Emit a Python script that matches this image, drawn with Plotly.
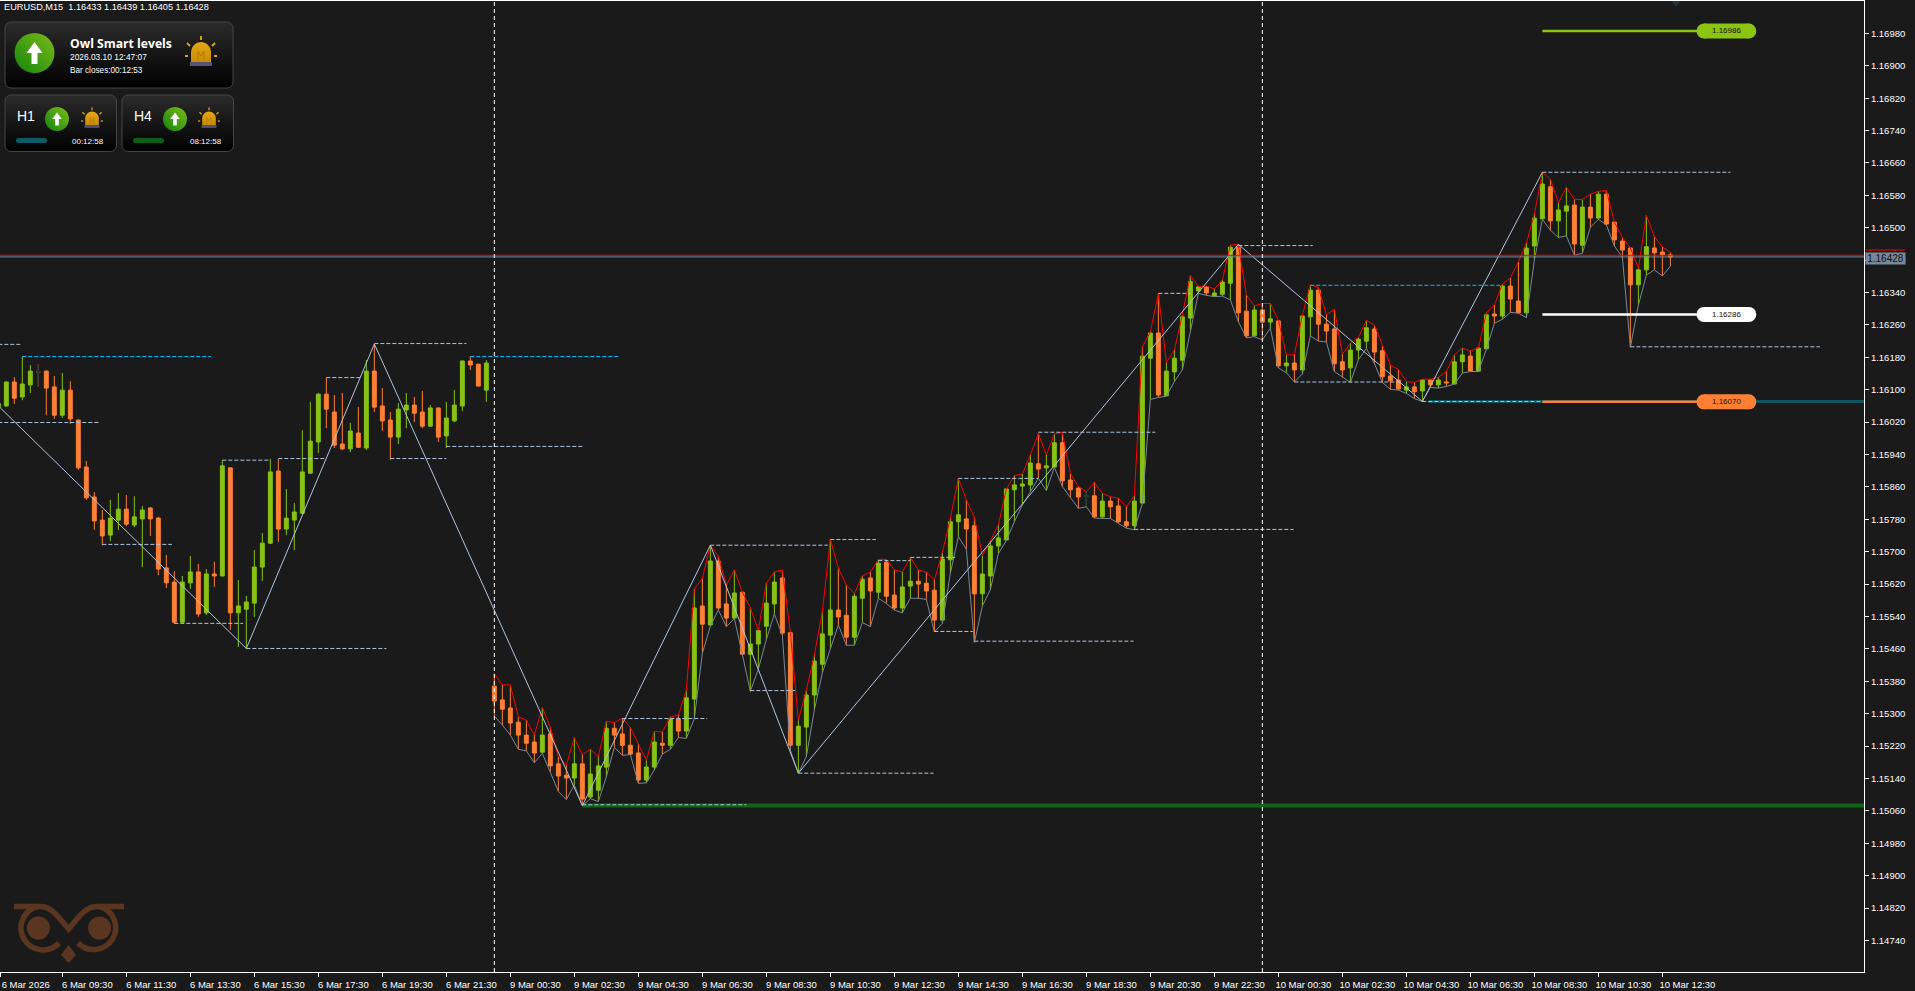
import base64
import plotly.graph_objects as go

# ---------- price data (points, 1e-5) ; bar index -1..208 ----------
opens = [116056,116060,116119,116082,116112,116144,116146,116107,116037,116099,116025,
115909,115835,115778,115741,115778,115805,115766,115781,115808,115783,
115660,115625,115526,115623,115650,115549,115645,115640,115907,115549,
115558,115573,115662,115721,115899,115756,115778,115795,115894,115971,
116089,116045,115966,115954,115993,115956,116146,116060,116025,115983,
116050,116062,116045,116010,116055,115986,116023,116060,116171,116163,116099,
115368,115334,115314,115279,115247,115230,115205,115250,115176,115148,
115141,115176,115094,115111,115168,115264,115250,115222,115203,115136,
115168,115227,115222,115287,115257,115336,115566,115519,115677,115571,
115536,115600,115447,115472,115516,115571,115635,115500,115222,115267,
115346,115422,115494,115556,115543,115489,115585,115635,115600,115674,
115593,115561,115615,115627,115622,115605,115531,115680,115774,115781,
115764,115596,115640,115714,115729,115853,115862,115865,115917,115907,
115909,115969,115877,115857,115837,115838,115786,115825,115813,115774,
115764,115820,116178,116240,116085,116144,116173,116277,116344,116354,
116331,116336,116363,116452,116294,116233,116297,116267,116270,116159,
116166,116149,116280,116346,116262,116250,116169,116154,116198,116220,
116250,116196,116134,116124,116099,116107,116097,116124,116112,116119,
116114,116169,116183,116146,116201,116287,116282,116356,116319,116290,
116455,116522,116601,116517,116541,116556,116457,116551,116524,116583,
116514,116467,116450,116359,116396,116450,116440,116433]

highs = [116068,116121,116131,116182,116161,116163,116147,116134,116141,116121,116027,
115924,115847,115803,115828,115845,115840,115837,115813,115810,115786,
115692,115652,115640,115689,115670,115657,115675,115926,115908,115630,
115591,115704,115746,115929,115929,115855,115820,116000,116070,116092,
116130,116087,116092,116018,116057,116173,116213,116104,116045,116067,
116092,116082,116097,116062,116056,116070,116099,116172,116183,116164,116173,
115399,115371,115371,115292,115284,115247,115315,115266,115194,115173,
115241,115198,115212,115194,115281,115278,115289,115266,115225,115185,
115256,115255,115292,115296,115358,115608,115634,115716,115689,115618,
115655,115600,115561,115506,115622,115650,115655,115501,115284,115358,
115445,115552,115731,115659,115618,115597,115640,115650,115681,115681,
115655,115650,115686,115655,115650,115630,115698,115783,115881,115828,
115785,115690,115727,115766,115855,115888,115892,115939,115992,115939,
115991,115995,115894,115861,115848,115871,115844,115836,115832,115811,
115838,116206,116243,116338,116167,116198,116285,116382,116355,116356,
116349,116371,116457,116459,116334,116307,116313,116313,116272,116186,
116186,116285,116359,116353,116285,116299,116188,116215,116229,116271,
116260,116208,116161,116150,116120,116118,116126,116126,116131,116145,
116186,116203,116196,116203,116290,116309,116361,116376,116416,116462,
116534,116637,116620,116562,116600,116570,116570,116583,116590,116592,
116514,116476,116450,116400,116531,116478,116453,116439]

lows = [116050,116058,116065,116074,116092,116107,116037,116028,116030,116015,115902,
115828,115754,115716,115726,115754,115763,115761,115662,115739,115642,
115610,115522,115525,115608,115539,115544,115613,115639,115507,115465,
115461,115539,115628,115719,115724,115741,115704,115793,115892,115944,
116005,115956,115951,115946,115956,115951,116045,115998,115927,115966,
116005,116020,116005,116009,115971,115956,116020,116047,116149,116108,116070,
115294,115272,115247,115212,115208,115179,115202,115157,115108,115088,
115124,115073,115090,115083,115144,115217,115197,115199,115128,115129,
115161,115200,115212,115241,115239,115288,115449,115516,115556,115515,
115535,115446,115355,115410,115483,115546,115494,115210,115153,115194,
115309,115401,115461,115519,115469,115469,115525,115515,115585,115572,
115556,115549,115585,115585,115582,115502,115523,115647,115737,115706,
115476,115566,115606,115695,115728,115774,115815,115848,115881,115851,
115908,115861,115834,115807,115811,115783,115782,115782,115770,115758,
115754,115819,116076,116081,116084,116120,116149,116248,116338,116333,
116330,116331,116322,116268,116228,116231,116223,116252,116154,116142,
116119,116139,116233,116220,116218,116145,116131,116118,116174,116202,
116165,116118,116101,116099,116091,116078,116071,116106,116104,116108,
116114,116141,116145,116145,116200,116264,116274,116291,116289,116278,
116420,116521,116494,116476,116480,116432,116437,116501,116521,116507,
116455,116427,116205,116309,116383,116396,116381,116405]

closes = [116066,116119,116079,116114,116146,116144,116104,116037,116099,116028,115907,
115833,115776,115739,115783,115805,115768,115786,115803,115781,115657,
115623,115526,115625,115650,115546,115645,115640,115912,115549,115566,
115576,115662,115721,115897,115756,115783,115798,115897,115973,116089,
116052,115963,115954,115998,115958,116146,116057,116023,115983,116052,
116062,116042,116010,116055,115983,116030,116062,116171,116161,116109,116166,
115331,115311,115277,115247,115227,115203,115247,115171,115146,115141,
115176,115089,115151,115171,115264,115247,115222,115200,115136,115168,
115230,115222,115287,115257,115339,115561,115521,115677,115561,115536,
115598,115447,115472,115505,115573,115625,115499,115222,115269,115346,
115430,115497,115556,115539,115489,115590,115632,115603,115672,115590,
115561,115613,115627,115620,115603,115531,115682,115774,115791,115756,
115596,115645,115714,115734,115855,115865,115867,115919,115904,115912,
115969,115875,115853,115835,115837,115786,115825,115811,115774,115764,
115825,116183,116240,116087,116146,116178,116280,116367,116354,116339,
116339,116366,116452,116290,116233,116297,116267,116275,116159,116166,
116149,116282,116346,116262,116245,116164,116149,116198,116225,116253,
116193,116132,116122,116102,116107,116095,116124,116112,116124,116117,
116169,116186,116146,116203,116285,116282,116356,116324,116290,116450,
116524,116608,116517,116544,116554,116460,116551,116524,116583,116509,
116470,116445,116359,116396,116453,116438,116433,116428]

first_bar = -1
bars = list(range(first_bar, first_bar + len(opens)))
dojis = [4, 135]                 # the two dark crosses
dark_open = [116144, 115838]
dark_high = [116163, 115848]
dark_low = [116107, 115811]
dark_close = [116144, 115836]
channel_start = 61               # envelope only exists from 9 Mar 00:00

# zigzag
zz_bars = [-0.79, 30, 46, 72, 88, 99, 154, 177, 192]
zz_price = [116056, 115461, 116213, 115073, 115716, 115153, 116459, 116071, 116637]

# dashed swing levels: start bar, end bar, price
lvl_start = [-1, -1, 12, 21, 30, 27, 34, 40, 46, 48, 55, 72, 77, 88, 103, 93, 99, 109, 113, 116, 121, 119, 129, 141, 144, 161, 154, 192, 203, 177]
lvl_end = [2, 11.7, 20.7, 29.6, 47.5, 33, 39.8, 44.4, 57.5, 55, 72, 92.5, 87.6, 102.7, 108.7, 98.6, 115.9, 113, 118.6, 120.8, 140.9, 129, 143.6, 160.9, 148, 174.5, 163.3, 215.5, 226.7, 192]
lvl_price = [116212, 116019, 115718, 115523, 115461, 115926, 115930, 116130, 116214, 115930, 115960, 115075, 115288, 115716, 115730, 115357, 115153, 115678, 115686, 115503, 115479, 115881, 115995, 115755, 116338, 116119, 116456, 116637, 116206, 116071]
cyan_start = [2, 58, 163]
cyan_end = [25.6, 76.7, 186.7]
cyan_price = [116182, 116182, 116358]

# horizontal smart levels
green_zone = 115073
teal_zone = 116071
target_hi = 116986
target_mid = 116286
target_lo = 116070
target_labels = ["1.16986", "1.16286", "1.16070"]
target_colors = ["#8cc412", "#ffffff", "#ff8033"]
bid = 116428
ask = 116432

ytick_start, ytick_stop, ytick_step = 114660, 117060, 80
x_ticks = [-0.7] + list(range(7, 215, 8))
x_labels = ["6 Mar 2026"] + ["6 Mar %02d:30" % h for h in range(9, 23, 2)] \
    + ["9 Mar %02d:30" % h for h in range(0, 24, 2)] \
    + ["10 Mar %02d:30" % h for h in range(0, 14, 2)]

# ---------- geometry ----------
W, H = 1915, 991
ML, MR, MT, MB = 0, 51, 1, 19
PW, PH = W - ML - MR, H - MT - MB
BG = "#1a1a1a"
GREEN, ORANGE = "#88c214", "#ff8033"
STEEL = "#b0c4de"
SLATE = "#778899"


def pr(v):
    return v / 1e5


def px(x):
    return x / PW


def py(y):
    return 1 - (y - MT) / PH


fig = go.Figure()


def seg(starts, ends, prices):
    xs, ys = [], []
    for a, b, c in zip(starts, ends, prices):
        xs += [a, b, None]
        ys += [pr(c), pr(c), None]
    return xs, ys


def line(x, y, color, width, dash=None):
    fig.add_trace(go.Scatter(x=x, y=y, mode="lines", hoverinfo="skip",
                             line=dict(color=color, width=width, dash=dash)))


right_edge = 232.2
line([72, right_edge], [pr(green_zone)] * 2, "#0f6415", 4)
line([177.75, right_edge], [pr(teal_zone)] * 2, "#0e5560", 3)

fig.add_trace(go.Candlestick(
    x=bars, open=[pr(v) for v in opens], high=[pr(v) for v in highs],
    low=[pr(v) for v in lows], close=[pr(v) for v in closes],
    whiskerwidth=0, hoverinfo="skip",
    increasing=dict(line=dict(color=GREEN, width=1), fillcolor=GREEN),
    decreasing=dict(line=dict(color=ORANGE, width=1), fillcolor=ORANGE)))
fig.add_trace(go.Candlestick(
    x=dojis, open=[pr(v) for v in dark_open], high=[pr(v) for v in dark_high],
    low=[pr(v) for v in dark_low], close=[pr(v) for v in dark_close],
    whiskerwidth=0, hoverinfo="skip",
    increasing=dict(line=dict(color="#24303a", width=1), fillcolor="#24303a"),
    decreasing=dict(line=dict(color="#24303a", width=1), fillcolor="#24303a")))

k = channel_start - first_bar
line(bars[k:], [pr(v) for v in highs[k:]], "#ff0000", 1)
line(bars[k:], [pr(v) for v in lows[k:]], SLATE, 1)

xs, ys = seg(lvl_start, lvl_end, lvl_price)
line(xs, ys, STEEL, 1, "4px,2px")
xs, ys = seg(cyan_start, cyan_end, cyan_price)
line(xs, ys, "#00bfff", 1, "4px,2px")
line(zz_bars, [pr(v) for v in zz_price], STEEL, 1)

pill_a, pill_b = 212.2, 217.8
for val, lab, col in zip([target_hi, target_mid, target_lo], target_labels, target_colors):
    line([192, pill_a], [pr(val)] * 2, col, 2.5)
    fig.add_trace(go.Scatter(x=[pill_a, pill_b], y=[pr(val)] * 2, mode="lines+markers",
                             hoverinfo="skip", line=dict(color=col, width=15),
                             marker=dict(color=col, size=15)))
    fig.add_annotation(x=215, y=pr(val), xref="x", yref="y", text=lab, showarrow=False,
                       font=dict(family="Liberation Sans", size=8, color="#111111"))

# ---------- dashboard art (SVG, plot-area pixels) ----------


def panel(x, y, w, h):
    return (f'<rect x="{x}" y="{y-MT}" width="{w}" height="{h}" rx="6" ry="6" '
            f'fill="url(#pg)" stroke="#444" stroke-width="1"/>')


def disc(cx, cy, r):
    s = r / 20
    return (f'<g transform="translate({cx},{cy-MT}) scale({s})"><circle r="20" fill="url(#dg)"/>'
            '<polygon points="0,-11 8,0 3,0 3,11 -3,11 -3,0 -8,0" fill="#fff"/></g>')


def alarm(cx, cy, s):
    rays = "".join(f'<line x1="{a}" y1="{b}" x2="{c}" y2="{d}"/>' for a, b, c, d in
                   [(0, -13, 0, -17), (-11, -7, -14, -10), (11, -7, 14, -10), (-13, 3, -16, 3), (13, 3, 16, 3)])
    return (f'<g transform="translate({cx},{cy-MT}) scale({s})">'
            f'<g stroke="#d9a014" stroke-width="2">{rays}</g>'
            '<path d="M-10,9 V-1 a10,10 0 0 1 20,0 V9 Z" fill="url(#ag)"/>'
            '<path d="M-3,-2 L0,3 L3,-2 V7 M-3,-2 V7" stroke="#b07c08" fill="none"/>'
            '<rect x="-11" y="9" width="22" height="4" fill="#55557a"/></g>')


OWL = "#5a3620"
owl = (f'<g transform="translate(0,{-MT})" fill="none" stroke="{OWL}" stroke-width="5.5">'
       '<path d="M14,906.5 H40 C52,906.5 58,917 68.6,929 C79,917 85,906.5 97,906.5 H124"/>'
       '<path d="M38,906.5 A22,22 0 1 0 59,943"/>'
       '<path d="M100,906.5 A22,22 0 1 1 78,943"/>'
       f'<circle cx="38.4" cy="928" r="11.5" fill="{OWL}" stroke="none"/>'
       f'<circle cx="99.6" cy="928" r="11.5" fill="{OWL}" stroke="none"/>'
       f'<polygon points="68.6,945 76,955 68.6,963 61,955" fill="{OWL}" stroke="none"/></g>')

svg = (f'<svg xmlns="http://www.w3.org/2000/svg" width="{PW}" height="{PH}" viewBox="0 0 {PW} {PH}">'
       '<defs>'
       '<linearGradient id="pg" x1="0" y1="0" x2="0" y2="1"><stop offset="0" stop-color="#2b2b2b"/><stop offset="1" stop-color="#000"/></linearGradient>'
       '<linearGradient id="dg" x1="1" y1="0" x2="0" y2="1"><stop offset="0" stop-color="#7dbb18"/><stop offset="1" stop-color="#12840c"/></linearGradient>'
       '<linearGradient id="ag" x1="0" y1="0" x2="0" y2="1"><stop offset="0" stop-color="#e6a812"/><stop offset="1" stop-color="#c98a08"/></linearGradient>'
       '</defs>'
       + panel(5, 22, 228, 66) + panel(5, 95, 111.5, 56.5) + panel(122, 95, 111.5, 56.5)
       + disc(34.5, 53, 20) + disc(57, 119, 12) + disc(175, 119, 12)
       + alarm(201, 53, 1) + alarm(92, 119, 0.68) + alarm(209, 119, 0.68)
       + f'<rect x="16" y="{138-MT}" width="31" height="5" rx="2.5" fill="#0e5a68"/>'
       + f'<rect x="133" y="{138-MT}" width="31" height="5" rx="2.5" fill="#0d5f17"/>'
       + owl + '</svg>')
img = "data:image/svg+xml;base64," + base64.b64encode(svg.encode()).decode()
fig.add_layout_image(source=img, xref="paper", yref="paper", x=0, y=1, sizex=1, sizey=1,
                     xanchor="left", yanchor="top", sizing="stretch", layer="above")


def txt(x, y, s, size, color="#ffffff", family="Liberation Sans", anchor="left", bold=False):
    fig.add_annotation(xref="paper", yref="paper", x=px(x), y=py(y), text=f"<b>{s}</b>" if bold else s,
                       showarrow=False, xanchor=anchor, yanchor="middle",
                       font=dict(family=family, size=size, color=color))


txt(2, 7, "EURUSD,M15&nbsp;&nbsp;1.16433 1.16439 1.16405 1.16428", 9.2)
txt(68, 43, "Owl Smart levels", 12.2, family="Open Sans", bold=True)
txt(68, 57, "2026.03.10 12:47:07", 8.4)
txt(68, 70, "Bar closes:00:12:53", 8.2)
txt(15, 116, "H1", 14)
txt(132, 116, "H4", 14)
txt(70, 141, "00:12:58", 8)
txt(188, 141, "08:12:58", 8)

# current price tag
fig.add_annotation(xref="paper", yref="y", x=1885.5 / PW, xanchor="center", y=pr(bid) - 0.00005, text="1.16428",
                   showarrow=False, bgcolor=SLATE, width=39, height=11, borderpad=0,
                   font=dict(family="Liberation Sans", size=10, color="#111111"))

shapes = [
    dict(type="line", xref="paper", x0=0, x1=1, yref="y", y0=pr(ask), y1=pr(ask), line=dict(color="#ff0000", width=1)),
    dict(type="line", xref="paper", x0=0, x1=1, yref="y", y0=pr(bid), y1=pr(bid), line=dict(color=SLATE, width=1)),
    dict(type="line", xref="paper", x0=1866 / PW, x1=1905 / PW, yref="y", y0=1.16445, y1=1.16445, line=dict(color="#ff0000", width=1)),
    dict(type="line", xref="x", x0=61, x1=61, yref="paper", y0=0, y1=1, line=dict(color="#ffffff", width=1, dash="4px,3px")),
    dict(type="line", xref="x", x0=157, x1=157, yref="paper", y0=0, y1=1, line=dict(color="#ffffff", width=1, dash="4px,3px")),
    dict(type="path", xref="paper", yref="paper", fillcolor="#26323c", line=dict(width=0),
         path=f"M {1671/PW} 1 L {1681/PW} 1 L {1676/PW} {py(6.5)} Z"),
]

fig.update_layout(
    width=W, height=H, margin=dict(l=ML, r=MR, t=MT, b=MB, pad=0),
    paper_bgcolor=BG, plot_bgcolor=BG, showlegend=False, hovermode=False,
    boxmode="overlay", boxgap=0.3, shapes=shapes,
    xaxis=dict(range=[-0.79, right_edge], rangeslider=dict(visible=False), showgrid=False, zeroline=False,
               showline=True, linecolor="#ffffff", linewidth=1, mirror=True,
               tickmode="array", tickvals=x_ticks, ticktext=x_labels, ticks="outside", ticklen=4,
               tickcolor="#ffffff", tickwidth=1, ticklabelshift=25, tickangle=0,
               tickfont=dict(family="Liberation Sans", size=9.5, color="#ffffff")),
    yaxis=dict(range=[pr(ytick_start + 2), pr(ytick_stop)], side="right", showgrid=False, zeroline=False,
               showline=True, linecolor="#ffffff", linewidth=1,
               tickmode="array", tickvals=[pr(v) for v in range(ytick_start, ytick_stop, ytick_step)],
               ticktext=["%.5f" % pr(v) for v in range(ytick_start, ytick_stop, ytick_step)],
               ticks="outside", ticklen=4, tickcolor="#ffffff", tickwidth=1,
               tickfont=dict(family="Liberation Sans", size=9.5, color="#ffffff")),
)

fig.write_html("out.html", post_script="document.body.style.margin='0';document.body.style.background='#1a1a1a';document.documentElement.style.overflow='hidden';",
               config=dict(displayModeBar=False))
